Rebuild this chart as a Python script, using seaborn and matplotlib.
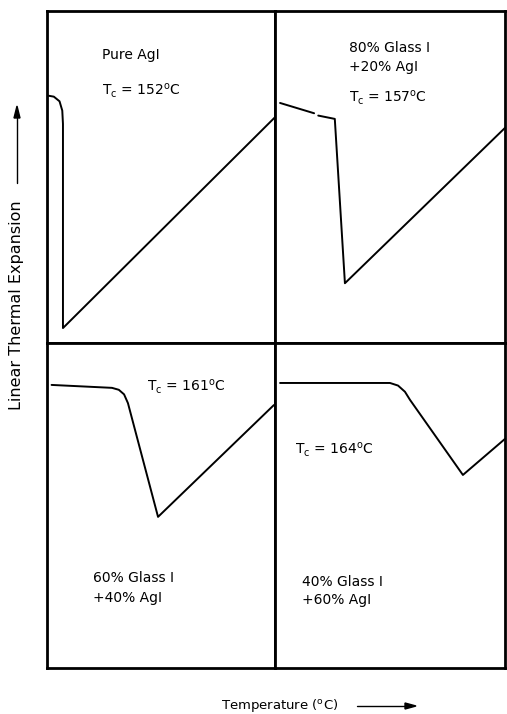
import seaborn as sns
import matplotlib.pyplot as plt
import pandas as pd

# each panel uses its own 0-100 scale (no ticks on the original)
# pure AgI
x_agi = [0.5, 3.0, 5.5, 6.7, 7.0, 7.0, 100]
y_agi = [74.5, 74.2, 72.8, 70.0, 66.0, 4.5, 68.0]
seg_agi = [0, 0, 0, 0, 0, 0, 0]

# 80% glass I + 20% AgI (small break in the first leg)
x_g80 = [2.2, 17.0, 18.8, 26.0, 30.4, 100]
y_g80 = [72.3, 69.2, 68.5, 67.5, 18.0, 64.8]
seg_g80 = [0, 0, 1, 1, 1, 1]

# 60% glass I + 40% AgI
x_g60 = [2.0, 28.5, 31.5, 33.8, 35.5, 48.7, 99.5]
y_g60 = [87.1, 86.2, 85.6, 84.2, 81.5, 46.5, 80.9]
seg_g60 = [0, 0, 0, 0, 0, 0, 0]

# 40% glass I + 60% AgI
x_g40 = [2.2, 50.0, 53.5, 56.5, 58.7, 81.7, 100]
y_g40 = [87.7, 87.7, 86.9, 85.0, 82.5, 59.4, 70.5]
seg_g40 = [0, 0, 0, 0, 0, 0, 0]

labels_agi = [("Pure AgI", 24, 86.7), ("T$_\\mathregular{c}$ = 152$^\\mathregular{o}$C", 24, 76.0)]
labels_g80 = [("80% Glass I", 32, 88.9), ("+20% AgI", 32, 83.1),
              ("T$_\\mathregular{c}$ = 157$^\\mathregular{o}$C", 32, 74.0)]
labels_g60 = [("T$_\\mathregular{c}$ = 161$^\\mathregular{o}$C", 44, 86.5),
              ("60% Glass I", 20, 27.7), ("+40% AgI", 20, 21.5)]
labels_g40 = [("T$_\\mathregular{c}$ = 164$^\\mathregular{o}$C", 8.7, 67.0),
              ("40% Glass I", 11.7, 26.5), ("+60% AgI", 11.7, 20.9)]

sns.set_style("white")
plt.rcParams["font.family"] = ["DejaVu Sans"]
plt.rcParams["text.color"] = "black"

fig, axes = plt.subplots(2, 2, figsize=(5.07, 7.14), dpi=100,
                         gridspec_kw=dict(width_ratios=[228, 230], height_ratios=[332, 325]))
fig.subplots_adjust(left=47/507, right=505/507, top=1-11/714, bottom=1-668/714,
                    wspace=0, hspace=0)

panels = [
    (axes[0, 0], x_agi, y_agi, seg_agi, labels_agi),
    (axes[0, 1], x_g80, y_g80, seg_g80, labels_g80),
    (axes[1, 0], x_g60, y_g60, seg_g60, labels_g60),
    (axes[1, 1], x_g40, y_g40, seg_g40, labels_g40),
]

for ax, xs, ys, segs, labels in panels:
    df = pd.DataFrame({"x": xs, "y": ys, "seg": segs})
    sns.lineplot(data=df, x="x", y="y", units="seg", estimator=None, sort=False,
                 color="black", lw=1.4, ax=ax, clip_on=False)
    for txt, tx, ty in labels:
        ax.text(tx, ty, txt, fontsize=10, va="center", ha="left", color="black")
    ax.set_xlim(0, 100)
    ax.set_ylim(0, 100)
    ax.set_xticks([])
    ax.set_yticks([])
    ax.set_xlabel("")
    ax.set_ylabel("")
    for sp in ax.spines.values():
        sp.set_visible(True)
        sp.set_color("black")
        sp.set_linewidth(2.0)

# axis captions with arrows
fig.text(280/507, 1-705/714, "Temperature ($^\\mathregular{o}$C)", fontsize=9.5,
         ha="center", va="center", color="black")
fig.add_artist(plt.Line2D([357/507, 410/507], [1-706/714, 1-706/714], color="black", lw=1.0))
fig.text(17/507, 1-305/714, "Linear Thermal Expansion", fontsize=11.5, rotation=90,
         ha="center", va="center", color="black")
fig.add_artist(plt.Line2D([17/507, 17/507], [1-183/714, 1-118/714], color="black", lw=1.0))
fig.add_artist(plt.Polygon([[416/507, 1-706/714], [405/507, 1-703/714], [405/507, 1-709/714]],
                           closed=True, color="black", transform=fig.transFigure))
fig.add_artist(plt.Polygon([[17/507, 1-106/714], [14/507, 1-118/714], [20/507, 1-118/714]],
                           closed=True, color="black", transform=fig.transFigure))

fig.savefig("out.png", dpi=100)
